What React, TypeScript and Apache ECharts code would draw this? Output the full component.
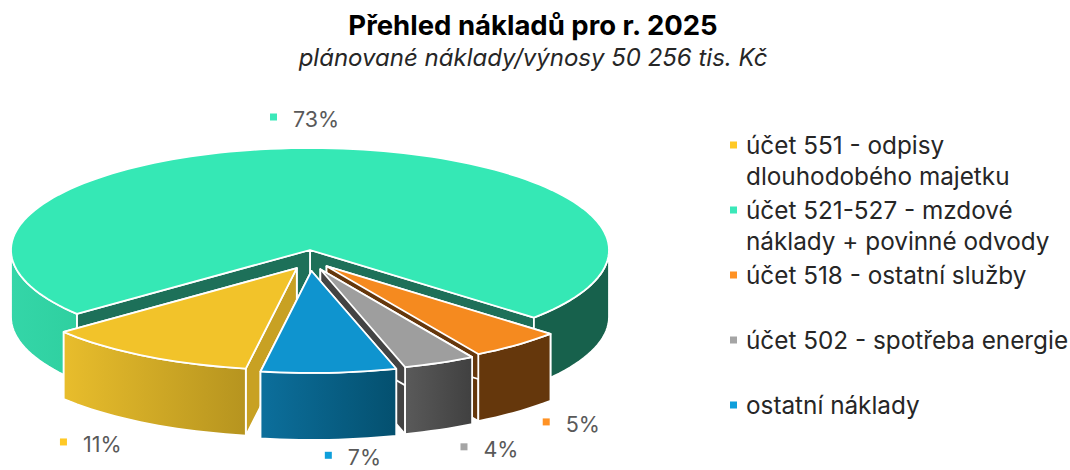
import React, { useEffect, useRef } from "react";
import * as echarts from "echarts";

const titleText = "Přehled nákladů pro r. 2025";
const subtitleText = "plánované náklady/výnosy 50 256 tis. Kč";

// Legend order
const categories = [
  "účet 551 - odpisy\ndlouhodobého majetku",
  "účet 521-527 - mzdové\nnáklady + povinné odvody",
  "účet 518 - ostatní služby",
  "účet 502 - spotřeba energie",
  "ostatní náklady",
];
const shares = [11.5, 72.3, 5.0, 3.9, 7.3];
const shareLabels = ["11%", "73%", "5%", "4%", "7%"];

const FONT = "Inter, 'Noto Sans', sans-serif";
const legendColors = ["#ffc926", "#3be8b9", "#ff9224", "#a5a5a5", "#0e9fdb"];
const topColors = ["#f2c32a", "#35e8b5", "#f58a1f", "#9e9e9e", "#0f94cf"];
const sideFrom = ["#e8bd2c", "#34d6a8", "#65370c", "#5a5a5a", "#0c6f9c"];
const sideTo = ["#b6941f", "#2fd0a0", "#65370c", "#404040", "#04506f"];
const cutColors = ["#c8a123", "#1d7059", "#65370c", "#434343", "#0a6a94"];

// Clockwise order round the pie, and the painter's order
const clockwise = [1, 0, 4, 3, 2];
const paintOrder = [1, 0, 2, 3, 4];
const START = 48.5;
const CX = 310, CY = 250, RX = 299, RY = 102, DEPTH = 67;
const EX = 26, EY = 21;
const rad = (d: number) => (d * Math.PI) / 180;
const total = shares.reduce((a, b) => a + b, 0);

const spans: { a0: number; a1: number }[] = [];
{
  let a = START;
  for (const i of clockwise) {
    const sweep = (shares[i] / total) * 360;
    spans[i] = { a0: a, a1: a + sweep };
    a += sweep;
  }
}
// offset of each value label from the foot of its outer arc's midpoint
const labelOffset: number[][] = [
  [-62, 21],
  [0, 0],
  [49, 12],
  [44, 19],
  [19, 17.5],
];

const pt = (ox: number, oy: number, deg: number, drop = 0): number[] => [
  ox + RX * Math.sin(rad(deg)),
  oy + RY * Math.cos(rad(deg)) + drop,
];
const arc = (ox: number, oy: number, a0: number, a1: number, drop = 0) => {
  const n = Math.max(2, Math.ceil(Math.abs(a1 - a0) / 2));
  const out: number[][] = [];
  for (let k = 0; k <= n; k++) out.push(pt(ox, oy, a0 + ((a1 - a0) * k) / n, drop));
  return out;
};

const poly = (points: number[][], fill: any) => ({
  type: "polygon",
  shape: { points },
  style: { fill, stroke: "#fff", lineWidth: 1.8, lineJoin: "round" },
});

const renderSlice = (i: number) => () => {
  const { a0, a1 } = spans[i];
  const mid = (a0 + a1) / 2;
  const exploded = i !== 1;
  const ox = CX + (exploded ? EX * Math.sin(rad(mid)) : 0);
  const oy = CY + (exploded ? EY * Math.cos(rad(mid)) : 0);
  const children: any[] = [];
  const apex = [ox, oy];
  const apexB = [ox, oy + DEPTH];
  const e0 = pt(ox, oy, a0), e1 = pt(ox, oy, a1);
  children.push(poly([apex, e0, pt(ox, oy, a0, DEPTH), apexB], cutColors[i]));
  children.push(poly([apex, e1, pt(ox, oy, a1, DEPTH), apexB], cutColors[i]));
  const gradient = () =>
    new echarts.graphic.LinearGradient(0, 0, 1, 0, [
      { offset: 0, color: sideFrom[i] },
      { offset: 1, color: sideTo[i] },
    ]);
  if (i === 1) {
    // the big slice wraps round the back: only its two front stretches show
    const right = arc(ox, oy, a0, 90);
    children.push(poly([...right, ...arc(ox, oy, 90, a0, DEPTH)], "#17614c"));
    const left = arc(ox, oy, 270, a1);
    children.push(poly([...left, ...arc(ox, oy, a1, 270, DEPTH)], gradient()));
  } else {
    const top = arc(ox, oy, a1, a0);
    children.push(poly([...top, ...arc(ox, oy, a0, a1, DEPTH)], gradient()));
  }
  children.push(poly([apex, ...arc(ox, oy, a0, a1)], topColors[i]));

  const foot = i === 1 ? [293, 119] : pt(ox, oy, mid, DEPTH);
  const lx = foot[0] + labelOffset[i][0];
  const ly = foot[1] + labelOffset[i][1];
  children.push({
    type: "rect",
    shape: { x: lx - 23, y: ly - 5.5, width: 7, height: 7 },
    style: { fill: legendColors[i] },
  });
  children.push({
    type: "text",
    style: {
      x: lx,
      y: ly,
      text: shareLabels[i],
      fill: "#595959",
      font: `21.5px ${FONT}`,
      verticalAlign: "middle",
      textAlign: "left",
    },
  });
  return { type: "group", children };
};

export default function App() {
  const ref = useRef<HTMLDivElement>(null);
  useEffect(() => {
    const chart = echarts.init(ref.current!, undefined, { renderer: "svg" });
    chart.setOption({
      animation: false,
      backgroundColor: "#fff",
      title: {
        text: titleText,
        subtext: subtitleText,
        left: 528,
        textAlign: "center",
        top: 6,
        itemGap: 6,
        textStyle: { fontFamily: FONT, fontWeight: "bold", fontSize: 27.5, color: "#000" },
        subtextStyle: { fontFamily: FONT, fontStyle: "italic", fontSize: 24, color: "#262626" },
      },
      legend: {
        orient: "vertical",
        left: 730,
        top: 129.5,
        itemWidth: 11,
        itemHeight: 62,
        itemGap: 3,
        padding: 0,
        selectedMode: false,
        icon: "path://M0 12L7 12L7 19L0 19Z M11 0L11 0.01 M0 62L0 61.99",
        itemStyle: { borderWidth: 0 },
        data: categories,
        formatter: (n: string) => (n.includes("\n") ? n : `${n}\n `),
        textStyle: { fontFamily: FONT, fontSize: 24.3, lineHeight: 31, color: "#262626" },
      },
      series: paintOrder.map((i, order) => ({
        type: "custom",
        name: categories[i],
        coordinateSystem: "none",
        z: order + 2,
        silent: true,
        itemStyle: { color: legendColors[i] },
        data: [[shares[i]]],
        renderItem: renderSlice(i),
      })),
    });
    return () => chart.dispose();
  }, []);
  return <div ref={ref} style={{ position: "fixed", left: 0, top: 0, width: 1070, height: 470 }} />;
}
